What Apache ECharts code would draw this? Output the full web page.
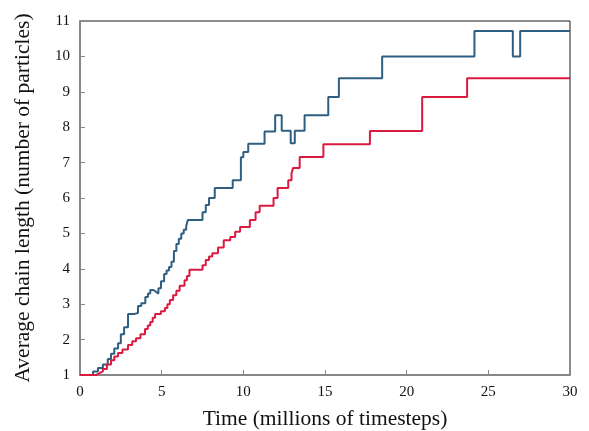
<!DOCTYPE html>
<html>
<head>
<meta charset="utf-8">
<script src="https://cdn.jsdelivr.net/npm/echarts@6/dist/echarts.min.js"></script>
<style>
  html, body { margin: 0; padding: 0; background: #fff; }
  #chart { width: 589px; height: 431px; }
</style>
</head>
<body>
<div id="chart"></div>
<script>
// x ticks and y ticks
const xTicks = [0, 5, 10, 15, 20, 25, 30];
const yTicks = [1, 2, 3, 4, 5, 6, 7, 8, 9, 10, 11];

// [time (millions), value that starts at this time]
const blueSteps = [
    [0, 1], [0.55, 1], [0.8, 1.1], [1.1, 1.2], [1.4, 1.3], [1.7, 1.45], [1.9, 1.6],
    [2.1, 1.75], [2.33, 1.9], [2.5, 2.15], [2.7, 2.35], [2.94, 2.72], [3.3, 2.75],
    [3.55, 2.95], [3.75, 3.03], [4.0, 3.2], [4.16, 3.3], [4.3, 3.4], [4.5, 3.35],
    [4.65, 3.3], [4.8, 3.45], [4.96, 3.65], [5.15, 3.85], [5.3, 3.95], [5.45, 4.05],
    [5.6, 4.2], [5.75, 4.5], [5.9, 4.7], [6.05, 4.85], [6.2, 5.0], [6.35, 5.1],
    [6.5, 5.2], [6.6, 5.38], [7.5, 5.6], [7.7, 5.8], [7.9, 6.0], [8.25, 6.28],
    [9.35, 6.5], [9.85, 7.15], [10.0, 7.3], [10.3, 7.53], [11.3, 7.88], [11.95, 8.34],
    [12.35, 7.9], [12.9, 7.55], [13.15, 7.9], [13.75, 8.34], [15.2, 8.85],
    [15.85, 9.38], [18.5, 10.0], [24.15, 10.72], [26.5, 10.0], [26.95, 10.72], [30, 10.72]
];

const redSteps = [
    [0, 1], [0.8, 1], [1.0, 1.05], [1.2, 1.1], [1.4, 1.17], [1.65, 1.3], [1.9, 1.42],
    [2.1, 1.52], [2.33, 1.62], [2.6, 1.72], [2.94, 1.85], [3.2, 1.95], [3.43, 2.04],
    [3.7, 2.15], [3.98, 2.3], [4.15, 2.4], [4.3, 2.5], [4.45, 2.62], [4.6, 2.72],
    [4.95, 2.8], [5.2, 2.89], [5.35, 3.0], [5.5, 3.12], [5.7, 3.25], [5.9, 3.38],
    [6.1, 3.52], [6.4, 3.68], [6.55, 3.8], [6.7, 3.97], [7.5, 4.1], [7.7, 4.25],
    [7.9, 4.35], [8.1, 4.44], [8.45, 4.6], [8.8, 4.81], [9.2, 4.9], [9.5, 5.05],
    [9.8, 5.18], [10.4, 5.38], [10.75, 5.6], [11.0, 5.78], [11.85, 6.0], [12.1, 6.28],
    [12.75, 6.5], [12.95, 6.7], [13.05, 6.85], [13.45, 7.16], [14.9, 7.52],
    [17.75, 7.89], [20.95, 8.85], [23.7, 9.38], [30, 9.38]
];

const seriesColors = { blue: '#2f5f80', red: '#dc1a40' };
const fontFamily = '"Liberation Serif", "DejaVu Serif", serif';

const chart = echarts.init(document.getElementById('chart'), null, { renderer: 'canvas' });

const option = {
    backgroundColor: '#fff',
    animation: false,
    grid: {
        left: 80, right: 19, top: 21, bottom: 56,
        outerBoundsMode: 'none', containLabel: false,
        show: true, borderColor: '#1a1a1a', borderWidth: 1
    },
    xAxis: {
        type: 'value',
        min: xTicks[0], max: xTicks[xTicks.length - 1], interval: 5,
        name: 'Time (millions of timesteps)',
        nameLocation: 'middle', nameGap: 33,
        nameTextStyle: { fontFamily, fontSize: 21.5, color: '#111' },
        axisLine: { show: true, onZero: false, lineStyle: { color: '#888', width: 2 } },
        axisTick: { show: true, inside: true, length: 5, lineStyle: { color: '#888' } },
        axisLabel: { fontFamily, fontSize: 15, color: '#111', margin: 10 },
        splitLine: { show: false }
    },
    yAxis: {
        type: 'value',
        min: yTicks[0], max: yTicks[yTicks.length - 1], interval: 1,
        name: 'Average chain length (number of particles)',
        nameLocation: 'middle', nameGap: 46,
        nameTextStyle: { fontFamily, fontSize: 21.5, color: '#111' },
        axisLine: { show: true, onZero: false, lineStyle: { color: '#888', width: 2 } },
        axisTick: { show: true, inside: true, length: 5, lineStyle: { color: '#888' } },
        axisLabel: { fontFamily, fontSize: 15, color: '#111', margin: 10 },
        splitLine: { show: false }
    },
    series: [
        {
            type: 'line', step: 'end', data: blueSteps,
            showSymbol: false, symbol: 'none',
            lineStyle: { color: seriesColors.blue, width: 2 }
        },
        {
            type: 'line', step: 'end', data: redSteps,
            showSymbol: false, symbol: 'none',
            lineStyle: { color: seriesColors.red, width: 2 }
        }
    ]
};

chart.setOption(option);
</script>
</body>
</html>
